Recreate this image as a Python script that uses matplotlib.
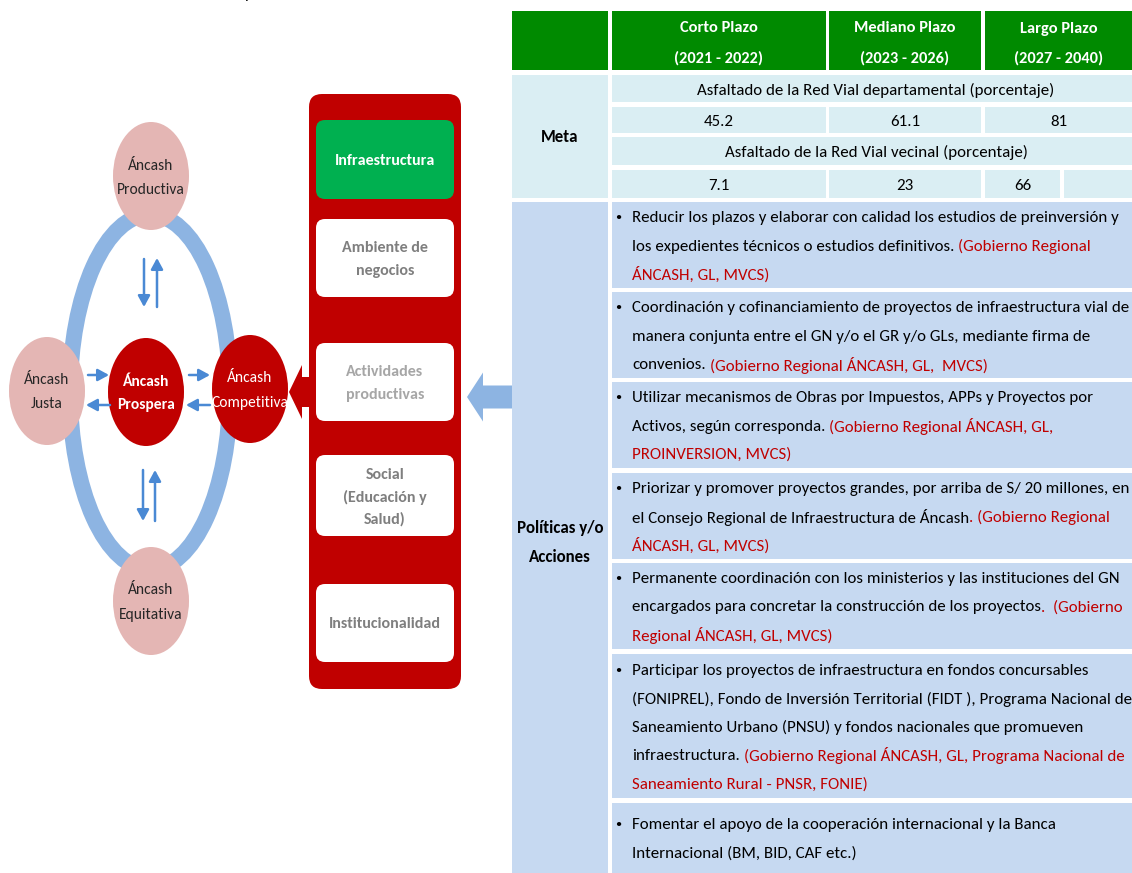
import matplotlib
matplotlib.use("Agg")
import matplotlib.pyplot as plt
from matplotlib.patches import Ellipse, FancyBboxPatch, Rectangle, FancyArrow

plt.rcParams["font.family"] = ["Carlito", "Liberation Sans", "DejaVu Sans"]

# Data
CIRCLES = [
    # label lines, kind
    (["Áncash", "Productiva"], "outer"),
    (["Áncash", "Justa"], "outer"),
    (["Áncash", "Prospera"], "center"),
    (["Áncash", "Competitiva"], "active"),
    (["Áncash", "Equitativa"], "outer"),
]
CIRCLE_POS = [(151, 176), (47, 391), (146, 392), (250, 389), (151, 601)]

PILLARS = [["Infraestructura"], ["Ambiente de", "negocios"], ["Actividades", "productivas"],
           ["Social", "(Educación y", "Salud)"], ["Institucionalidad"]]
PILLAR_Y = [(120, 199), (219, 297), (343, 421), (455, 536), (584, 662)]
PILLAR_FILL = ["#00B050", "white", "white", "white", "white"]
PILLAR_TEXT = ["white", "#7F7F7F", "#A6A6A6", "#7F7F7F", "#7F7F7F"]

HEADERS = ["Corto Plazo\n(2021 - 2022)", "Mediano Plazo\n(2023 - 2026)", "Largo Plazo\n(2027 - 2040)"]
META_TITLES = ["Asfaltado de la Red Vial departamental (porcentaje)",
               "Asfaltado de la Red Vial vecinal (porcentaje)"]
META_DEPARTAMENTAL = ["45.2", "61.1", "81"]
META_VECINAL = ["7.1", "23", "66"]

ACTIONS = [
    [("Reducir los plazos y elaborar con calidad los estudios de preinversión y", ""),
     ("los expedientes técnicos o estudios definitivos.", " (Gobierno Regional"),
     ("", "ÁNCASH, GL, MVCS)")],
    [("Coordinación y cofinanciamiento de proyectos de infraestructura vial de", ""),
     ("manera conjunta entre el GN y/o el GR y/o GLs, mediante firma de", ""),
     ("convenios.", " (Gobierno Regional ÁNCASH, GL,  MVCS)")],
    [("Utilizar mecanismos de Obras por Impuestos, APPs y Proyectos por", ""),
     ("Activos, según corresponda.", " (Gobierno Regional ÁNCASH, GL,"),
     ("", "PROINVERSION, MVCS)")],
    [("Priorizar y promover proyectos grandes, por arriba de S/ 20 millones, en", ""),
     ("el Consejo Regional de Infraestructura de Áncash", ". (Gobierno Regional"),
     ("", "ÁNCASH, GL, MVCS)")],
    [("Permanente coordinación con los ministerios y las instituciones del GN", ""),
     ("encargados para concretar la construcción de los proyectos", ".  (Gobierno"),
     ("", "Regional ÁNCASH, GL, MVCS)")],
    [("Participar los proyectos de infraestructura en fondos concursables", ""),
     ("(FONIPREL), Fondo de Inversión Territorial (FIDT ), Programa Nacional de", ""),
     ("Saneamiento Urbano (PNSU) y fondos nacionales que promueven", ""),
     ("infraestructura.", " (Gobierno Regional ÁNCASH, GL, Programa Nacional de"),
     ("", "Saneamiento Rural - PNSR, FONIE)")],
    [("Fomentar el apoyo de la cooperación internacional y la Banca", ""),
     ("Internacional (BM, BID, CAF etc.)", "")],
]
ACTION_ROWS = [(202, 288), (292, 378), (382, 468), (473, 559), (563, 649), (654, 798), (803, 873)]

# Colors
GREEN_HEAD = "#008A00"
META_BG = "#DAEEF3"
POL_BG = "#C6D9F1"
RED = "#C00000"
PINK = "#E4B6B4"
RING = "#8DB4E2"
ARROW_BLUE = "#4A89D4"
FS = 12.2

fig = plt.figure(figsize=(11.32, 8.73), dpi=100)
ax = fig.add_axes([0, 0, 1, 1])
ax.set_xlim(0, 1132)
ax.set_ylim(873, 0)
ax.axis("off")

# cut-off text at the very top
ax.text(249, -2, "p", fontsize=12, va="baseline", ha="center", color="black")


def multiline(x, yc, lines, gap, **kw):
    # one text per line so the line gap is exact
    first = yc - (len(lines) - 1) * gap / 2
    for i, s in enumerate(lines):
        ax.text(x, first + i * gap, s, ha="center", va="center_baseline", **kw)


# ---- Left diagram ----
ax.add_patch(Ellipse((150, 392), 160, 355, fill=False, ec=RING, lw=11.5, zorder=1))
for (label, kind), (cx, cy) in zip(CIRCLES, CIRCLE_POS):
    fc = PINK if kind == "outer" else RED
    ax.add_patch(Ellipse((cx, cy), 76, 108, fc=fc, ec="none", zorder=3))
    tc = "#262626" if kind == "outer" else "white"
    fw = "bold" if kind == "center" else "normal"
    multiline(cx, cy, label, 24, fontsize=11.2, color=tc, fontweight=fw, zorder=4)

arrow_kw = dict(arrowstyle="-|>,head_length=0.55,head_width=0.3", color=ARROW_BLUE,
                lw=1.8, shrinkA=0, shrinkB=0, mutation_scale=12)
for x0, y0, x1, y1 in [(144, 259, 144, 307), (157, 307, 157, 258),
                       (143, 470, 143, 521), (155, 521, 155, 470),
                       (88, 375, 109, 375), (110, 405, 86, 405),
                       (189, 375, 210, 375), (210, 405, 186, 405)]:
    ax.annotate("", xy=(x1, y1), xytext=(x0, y0), arrowprops=arrow_kw, zorder=5)

# red arrow from panel to Competitiva
ax.add_patch(FancyArrow(312, 392, -23, 0, width=30, head_width=54, head_length=13,
                        length_includes_head=True, fc=RED, ec="none", zorder=2))

# ---- Red panel ----
ax.add_patch(FancyBboxPatch((309, 94), 152, 595, boxstyle="round,pad=0,rounding_size=13",
                            fc=RED, ec="none", zorder=2))
for name, (y0, y1), fc, tc in zip(PILLARS, PILLAR_Y, PILLAR_FILL, PILLAR_TEXT):
    ax.add_patch(FancyBboxPatch((316, y0), 138, y1 - y0, boxstyle="round,pad=0,rounding_size=9",
                                fc=fc, ec="none", zorder=3))
    multiline(385, (y0 + y1) / 2, name, 22, fontsize=11.5, fontweight="bold", color=tc, zorder=4)

# blue arrow from table to panel
ax.add_patch(FancyArrow(512, 397, -45, 0, width=23, head_width=49, head_length=16,
                        length_includes_head=True, fc=RING, ec="none", zorder=2))

# ---- Table ----
COL_X = [(512, 608), (612, 826), (829, 981), (985, 1132)]


def cell(x0, x1, y0, y1, fc):
    ax.add_patch(Rectangle((x0, y0), x1 - x0, y1 - y0, fc=fc, ec="none", zorder=1))


# header
for i, (x0, x1) in enumerate(COL_X):
    cell(x0, x1, 11, 70, GREEN_HEAD)
    if i > 0:
        multiline((x0 + x1) / 2, 42, HEADERS[i - 1].split("\n"), 30, fontsize=11.8,
                  fontweight="bold", color="white")

# meta block
cell(512, 608, 75, 198, META_BG)
ax.text(560, 137, "Meta", ha="center", va="center", fontsize=FS, fontweight="bold")
meta_rows = [(75, 102), (107, 133), (137, 165), (170, 198)]
for k, title in enumerate(META_TITLES):
    y0, y1 = meta_rows[2 * k]
    cell(612, 1132, y0, y1, META_BG)
    ax.text(876, (y0 + y1) / 2, title, ha="center", va="center_baseline", fontsize=FS)
    y0, y1 = meta_rows[2 * k + 1]
    vals = META_DEPARTAMENTAL if k == 0 else META_VECINAL
    for j, (x0, x1) in enumerate(COL_X[1:]):
        if k == 1 and j == 2:
            cell(x0, 1060, y0, y1, META_BG)
            cell(1064, x1, y0, y1, META_BG)
            x1 = 1060
        else:
            cell(x0, x1, y0, y1, META_BG)
        ax.text((x0 + x1) / 2, (y0 + y1) / 2, vals[j], ha="center", va="center_baseline", fontsize=FS)

# policies block
cell(512, 608, 202, 873, POL_BG)
multiline(560, 541, ["Políticas y/o", "Acciones"], 28, fontsize=FS, fontweight="bold")

fig.canvas.draw()
renderer = fig.canvas.get_renderer()


def text_width(s):
    t = ax.text(0, 0, s, fontsize=FS)
    w = t.get_window_extent(renderer).width
    t.remove()
    return w


x_ref = text_width("x")
LINE_H = 28.5
for lines, (y0, y1) in zip(ACTIONS, ACTION_ROWS):
    cell(612, 1132, y0, y1, POL_BG)
    n = len(lines)
    first_y = (y0 + y1) / 2 - (n - 1) * LINE_H / 2
    ax.text(618, first_y, "•", ha="center", va="center_baseline", fontsize=9)
    for i, (black, red) in enumerate(lines):
        y = first_y + i * LINE_H
        x = 632
        stripped = red.lstrip(" ")
        lead = black + red[: len(red) - len(stripped)]
        if black:
            ax.text(x, y, black, ha="left", va="center_baseline", fontsize=FS, color="black")
        if stripped:
            off = text_width(lead + "x") - x_ref if lead else 0
            ax.text(x + off, y, stripped, ha="left", va="center_baseline", fontsize=FS, color=RED)

fig.savefig("out.png", dpi=100, facecolor="white")
